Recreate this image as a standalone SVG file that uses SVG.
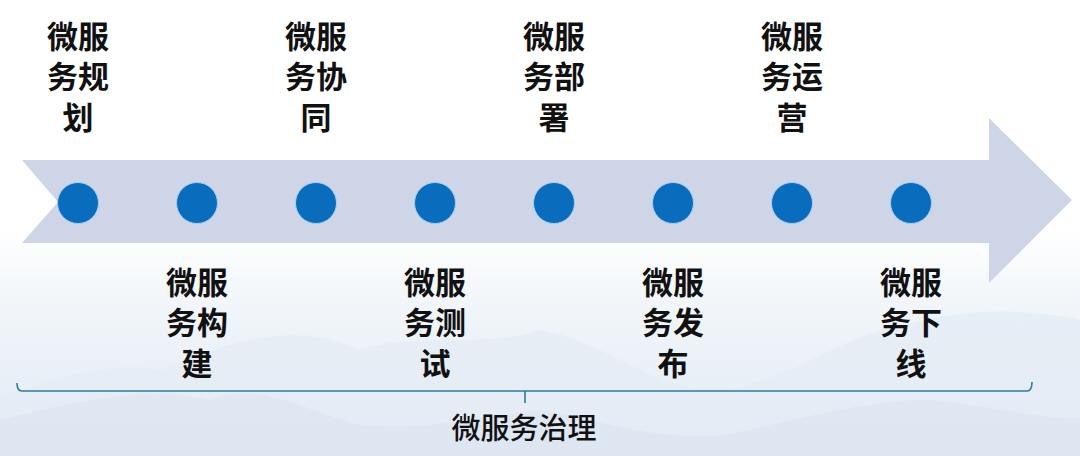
<svg xmlns="http://www.w3.org/2000/svg" width="1080" height="456" viewBox="0 0 1080 456">
<defs>
<linearGradient id="bg" x1="0" y1="0" x2="0" y2="1">
<stop offset="0" stop-color="#ffffff"/>
<stop offset="0.5" stop-color="#ffffff"/>
<stop offset="0.7" stop-color="#eff4f9"/>
<stop offset="1" stop-color="#e2eaf4"/>
</linearGradient>
<linearGradient id="mt" x1="0" y1="0" x2="0" y2="1">
<stop offset="0" stop-color="#cddaeb" stop-opacity="0.6"/>
<stop offset="1" stop-color="#e6edf6" stop-opacity="0.2"/>
</linearGradient>
<style>
.t{font-family:"Liberation Sans","Noto Sans CJK SC",sans-serif;font-weight:bold;font-size:31px;fill:#111;text-anchor:middle}
.dot{fill:#0a6cbd;stroke:#9fd0f0;stroke-width:1}
.br{fill:none;stroke:#2b7d9a;stroke-width:1.6}
</style>
</defs>
<rect width="1080" height="456" fill="url(#bg)"/>
<g id="background" opacity="0.75">
<path d="M0 395 C60 380 110 360 160 370 C230 340 300 320 360 350 C420 330 480 350 540 330 C600 340 640 380 700 390 C760 395 820 350 880 330 C930 320 980 300 1080 320 L1080 456 L0 456 Z" fill="url(#mt)" opacity="0.55"/>
<path d="M0 420 C80 400 150 385 210 400 C260 380 300 410 360 425 C420 430 470 420 540 410 C600 420 650 440 720 436 C800 420 860 400 930 400 C990 405 1040 420 1080 418 L1080 456 L0 456 Z" fill="#d6e0ee" opacity="0.5"/>
</g>
<g id="arrow">
<path d="M22 160 L989 160 L989 118 L1072 200 L989 283 L989 243 L22 243 L58 202 Z" fill="#cdd5e7"/>
</g>
<g id="n1"><circle class="dot" cx="78" cy="203" r="20.5"/><text class="t" x="78" y="48">微服<tspan x="78" dy="40">务规</tspan><tspan x="78" dy="41">划</tspan></text></g>
<g id="n2"><circle class="dot" cx="197" cy="203" r="20.5"/><text class="t" x="197" y="294">微服<tspan x="197" dy="40">务构</tspan><tspan x="197" dy="41">建</tspan></text></g>
<g id="n3"><circle class="dot" cx="316" cy="203" r="20.5"/><text class="t" x="316" y="48">微服<tspan x="316" dy="40">务协</tspan><tspan x="316" dy="41">同</tspan></text></g>
<g id="n4"><circle class="dot" cx="435" cy="203" r="20.5"/><text class="t" x="435" y="294">微服<tspan x="435" dy="40">务测</tspan><tspan x="435" dy="41">试</tspan></text></g>
<g id="n5"><circle class="dot" cx="554" cy="203" r="20.5"/><text class="t" x="554" y="48">微服<tspan x="554" dy="40">务部</tspan><tspan x="554" dy="41">署</tspan></text></g>
<g id="n6"><circle class="dot" cx="673" cy="203" r="20.5"/><text class="t" x="673" y="294">微服<tspan x="673" dy="40">务发</tspan><tspan x="673" dy="41">布</tspan></text></g>
<g id="n7"><circle class="dot" cx="792" cy="203" r="20.5"/><text class="t" x="792" y="48">微服<tspan x="792" dy="40">务运</tspan><tspan x="792" dy="41">营</tspan></text></g>
<g id="n8"><circle class="dot" cx="911" cy="203" r="20.5"/><text class="t" x="911" y="294">微服<tspan x="911" dy="40">务下</tspan><tspan x="911" dy="41">线</tspan></text></g>
<g id="connectors">
<path class="br" d="M17 383 Q17 391 22 391 L1027 391 Q1032 391 1032 382 M525 391 L525 403"/>
</g>
<g id="label"><text class="t" x="524" y="439" style="font-size:29px;font-weight:500">微服务治理</text></g>
</svg>
